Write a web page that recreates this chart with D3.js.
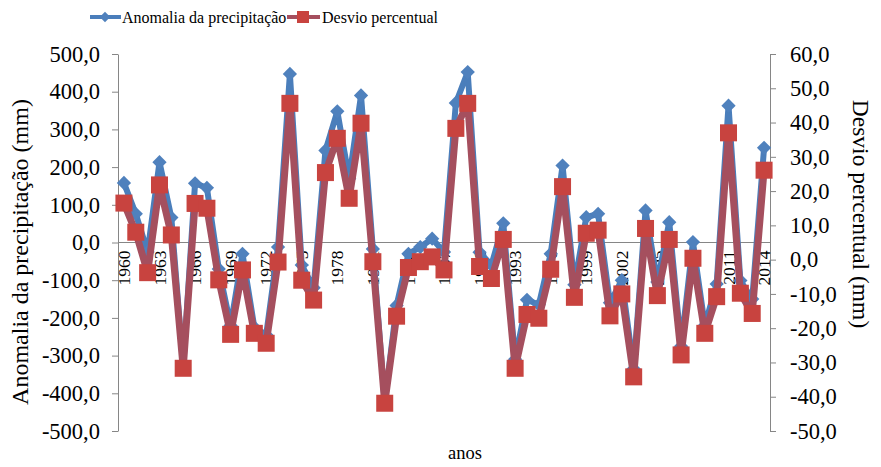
<!DOCTYPE html>
<html>
<head>
<meta charset="utf-8">
<script src="https://cdn.jsdelivr.net/npm/d3@7"></script>
<style>
  html, body { margin: 0; padding: 0; background: #fff; }
  svg { display: block; }
  svg text { font-family: "Liberation Serif", "Times New Roman", serif; }
</style>
</head>
<body>
<svg id="chart" width="881" height="467"></svg>
<script>
// ---- data ----
const years = d3.range(1960, 2015);
const anomalia = [158, 76, -25, 213, 66, -330, 157, 145, -70, -220,
  -30, -225, -245, -12, 447, -60, -120, 244, 348, 169,
  390, -17, -425, -167, -30, -12, 10, -25, 370, 452,
  -26, -60, 51, -310, -152, -165, -30, 204, -112, 67,
  76, -160, -100, -335, 85, -105, 54, -275, 1, -220,
  -110, 363, -101, -150, 251];
const desvio = [16.5, 8.0, -3.8, 21.8, 7.2, -31.7, 16.4, 15.0, -5.9, -21.8,
  -3.0, -21.5, -24.4, -0.7, 45.6, -6.0, -11.8, 25.4, 35.4, 17.9,
  39.8, -0.6, -41.9, -16.5, -2.3, -0.6, 0.8, -3.0, 38.3, 45.6,
  -2.0, -5.5, 5.9, -31.7, -16.0, -17.1, -2.8, 21.3, -11.0, 7.7,
  8.6, -16.4, -10.0, -34.2, 9.1, -10.5, 5.9, -27.8, 0.4, -21.5,
  -10.8, 37.0, -9.8, -15.7, 26.1];
const leftTicks = d3.range(-500, 501, 100);
const rightTicks = d3.range(-50, 61, 10);
const xTickYears = d3.range(1960, 2015, 3);
const seriesNames = ["Anomalia da precipitação", "Desvio percentual"];
const leftTitle = "Anomalia da precipitação (mm)";
const rightTitle = "Desvio percentual (mm)";
const xTitle = "anos";

// ---- layout ----
const svg = d3.select("#chart");
const serif = "'Liberation Serif', 'Times New Roman', serif";
const plotL = 118, plotR = 770, plotT = 54, plotB = 431;
const blue = "#4F81BD", blueLine = "#4A7EBB";
const redMarker = "#C8433F", redLine = "#A54F5E";
const axisColor = "#868686";
const loc = d3.formatLocale({decimal: ",", thousands: ".", grouping: [3], currency: ["", ""], minus: "-"});
const fmt = loc.format(".1f");

const x = d3.scaleBand().domain(years).range([plotL, plotR]);
const cx = d => x(d) + x.bandwidth() / 2;
const yL = d3.scaleLinear().domain([-500, 500]).range([plotB, plotT]);
const yR = d3.scaleLinear().domain([-50, 60]).range([plotB, plotT]);

// left axis
const gL = svg.append("g").attr("transform", `translate(${plotL},0)`)
  .call(d3.axisLeft(yL).tickValues(leftTicks).tickFormat(fmt).tickSize(6).tickSizeOuter(0).tickPadding(12));
// right axis
const gR = svg.append("g").attr("transform", `translate(${plotR},0)`)
  .call(d3.axisRight(yR).tickValues(rightTicks).tickFormat(fmt).tickSize(6).tickSizeOuter(0).tickPadding(14));
[gL, gR].forEach(g => {
  g.attr("font-family", serif).style("font-family", serif);
  g.selectAll("path.domain").attr("stroke", axisColor);
  g.selectAll(".tick line").attr("stroke", axisColor);
  g.selectAll(".tick text").attr("font-size", 22.5).attr("fill", "#000")
    .style("font-family", serif);
});

// category axis at zero
const gX = svg.append("g").attr("transform", `translate(0,${yL(0)})`)
  .call(d3.axisBottom(x).tickValues(xTickYears).tickSize(0).tickPadding(0).tickSizeOuter(0));
gX.attr("font-family", serif).style("font-family", serif);
gX.selectAll("path.domain").attr("stroke", axisColor).attr("d", `M${plotL},0H${plotR}`);
gX.selectAll(".tick text")
  .attr("font-size", 17.5).attr("fill", "#000").style("font-family", serif)
  .attr("text-anchor", "end")
  .attr("transform", "rotate(-90)")
  .attr("x", -8).attr("y", 0).attr("dy", "0.35em");

// series lines
const lineL = d3.line().x((d, i) => cx(years[i])).y(d => yL(d));
const lineR = d3.line().x((d, i) => cx(years[i])).y(d => yR(d));
svg.append("path").datum(anomalia).attr("d", lineL)
  .attr("fill", "none").attr("stroke", blueLine).attr("stroke-width", 6).attr("stroke-linejoin", "round");
svg.append("g").selectAll("path").data(anomalia).join("path")
  .attr("d", d3.symbol(d3.symbolDiamond2, 130))
  .attr("transform", (d, i) => `translate(${cx(years[i])},${yL(d)})`)
  .attr("fill", blue);
svg.append("path").datum(desvio).attr("d", lineR)
  .attr("fill", "none").attr("stroke", redLine).attr("stroke-width", 7).attr("stroke-linejoin", "round");
svg.append("g").selectAll("rect").data(desvio).join("rect")
  .attr("x", (d, i) => cx(years[i]) - 8.5).attr("y", d => yR(d) - 8.5)
  .attr("width", 17).attr("height", 17).attr("fill", redMarker);

// axis titles
svg.append("text").attr("transform", `translate(28,252) rotate(-90)`)
  .attr("text-anchor", "middle").attr("font-size", 24).text(leftTitle);
svg.append("text").attr("transform", `translate(853,214) rotate(90)`)
  .attr("text-anchor", "middle").attr("font-size", 23.5).text(rightTitle);
svg.append("text").attr("x", 465).attr("y", 459)
  .attr("text-anchor", "middle").attr("font-size", 18.5).text(xTitle);

// legend
const lg = svg.append("g");
lg.append("line").attr("x1", 90).attr("x2", 121).attr("y1", 17).attr("y2", 17)
  .attr("stroke", blueLine).attr("stroke-width", 4);
lg.append("path").attr("d", d3.symbol(d3.symbolDiamond2, 70)).attr("transform", "translate(105,17)").attr("fill", blue);
lg.append("text").attr("x", 122).attr("y", 23).attr("font-size", 16).text(seriesNames[0]);
lg.append("line").attr("x1", 287).attr("x2", 320).attr("y1", 17).attr("y2", 17)
  .attr("stroke", redLine).attr("stroke-width", 4);
lg.append("rect").attr("x", 297).attr("y", 11).attr("width", 12).attr("height", 12).attr("fill", redMarker);
lg.append("text").attr("x", 322).attr("y", 23).attr("font-size", 16).text(seriesNames[1]);
</script>
</body>
</html>
